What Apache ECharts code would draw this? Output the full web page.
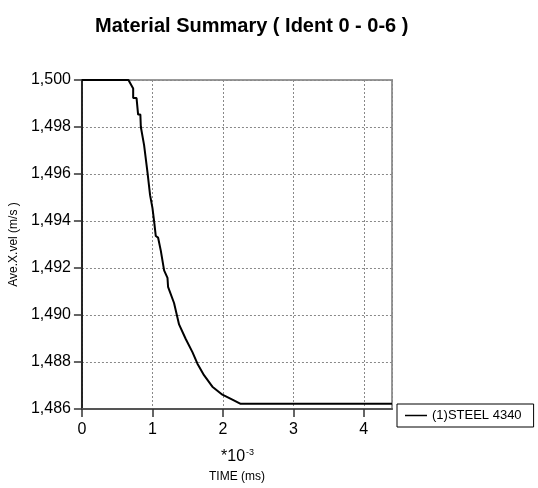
<!DOCTYPE html>
<html>
<head>
<meta charset="utf-8">
<script src="https://cdn.jsdelivr.net/npm/echarts@6/dist/echarts.min.js"></script>
<style>
    html, body { margin: 0; padding: 0; background: #fff; }
</style>
</head>
<body>
<div id="chart" style="width: 538px; height: 488px;"></div>

<script>
    // time in units of 1e-3 ms, average x velocity in m/s
    var timeVals = [0, 0.66, 0.68, 0.727, 0.727, 0.775, 0.797, 0.829, 0.836, 0.882, 0.931,
        0.967, 1.001, 1.024, 1.048, 1.081, 1.119, 1.166, 1.214, 1.222, 1.307, 1.378,
        1.473, 1.568, 1.639, 1.732, 1.851, 1.993, 2.135, 2.252, 4.4];
    var velVals = [1500, 1500, 1500, 1499.64, 1499.23, 1499.23, 1498.53, 1498.53, 1498.0, 1497.23, 1496.05,
        1495.10, 1494.55, 1493.99, 1493.36, 1493.29, 1492.74, 1491.90, 1491.58, 1491.20, 1490.51, 1489.60,
        1488.98, 1488.42, 1487.93, 1487.44, 1486.95, 1486.61, 1486.40, 1486.22, 1486.22];
    var xTicks = ['0', '1', '2', '3', '4'];
    var seriesName = '(1)STEEL 4340';

    var points = [];
    for (var i = 0; i < timeVals.length; i++) {
        points.push([timeVals[i], velVals[i]]);
    }

    var myChart = echarts.init(document.getElementById('chart'));
    var font = 'Arial, "Liberation Sans", sans-serif';

    var option = {
        backgroundColor: '#fff',
        animation: false,
        title: {
            text: 'Material Summary ( Ident 0 - 0-6 )',
            left: 90,
            top: 11,
            textStyle: { fontFamily: font, fontSize: 20, fontWeight: 'bold', color: '#000' }
        },
        legend: {
            data: [seriesName],
            left: 397,
            top: 404,
            padding: [5, 12, 5, 8],
            borderColor: '#000',
            borderWidth: 1,
            borderRadius: 0,
            icon: 'rect',
            itemWidth: 22,
            itemHeight: 1.5,
            textStyle: { fontFamily: font, fontSize: 13, color: '#000' }
        },
        grid: {
            left: 81, right: 146, top: 80, bottom: 74,
            show: true, borderColor: '#999', borderWidth: 2, backgroundColor: 'transparent'
        },
        graphic: [{
            type: 'text',
            left: 221,
            top: 448,
            style: {
                text: '{a|*10}{b|-3}',
                rich: {
                    a: { fontFamily: font, fontSize: 16, color: '#000', verticalAlign: 'bottom' },
                    b: { fontFamily: font, fontSize: 9, color: '#000', verticalAlign: 'top', padding: [0, 0, 8, 1] }
                }
            }
        }],
        xAxis: {
            type: 'value',
            min: 0,
            max: 4.4,
            interval: 1,
            name: 'TIME (ms)',
            nameLocation: 'middle',
            nameGap: 62,
            nameTextStyle: { fontFamily: font, fontSize: 12, color: '#000' },
            axisLine: { onZero: false, lineStyle: { color: '#555', width: 2 } },
            axisTick: { show: true, length: 8, lineStyle: { color: '#333', width: 1.5 } },
            axisLabel: {
                margin: 13, fontFamily: font, fontSize: 16, color: '#000', showMaxLabel: false,
                formatter: function (v) { return xTicks[Math.round(v)] || ''; }
            },
            splitLine: { show: true, lineStyle: { color: '#888', type: [2, 2], width: 1 } }
        },
        yAxis: {
            type: 'value',
            min: 1486,
            max: 1500,
            interval: 2,
            name: 'Ave.X.vel (m/s )',
            nameLocation: 'middle',
            nameGap: 58,
            nameTextStyle: { fontFamily: font, fontSize: 12, color: '#000' },
            axisLine: { show: true, onZero: false, lineStyle: { color: '#000', width: 1.5 } },
            axisTick: { show: true, length: 8, lineStyle: { color: '#333', width: 1.5 } },
            axisLabel: {
                margin: 11, fontFamily: font, fontSize: 16, color: '#000',
                formatter: function (v) { return echarts.format.addCommas(v); }
            },
            splitLine: { show: true, lineStyle: { color: '#888', type: [2, 2], width: 1 } }
        },
        series: [{
            name: seriesName,
            type: 'line',
            data: points,
            symbol: 'none',
            lineStyle: { color: '#000', width: 2 },
            itemStyle: { color: '#000' }
        }]
    };

    myChart.setOption(option);
    window.onresize = myChart.resize;
</script>
</body>
</html>
